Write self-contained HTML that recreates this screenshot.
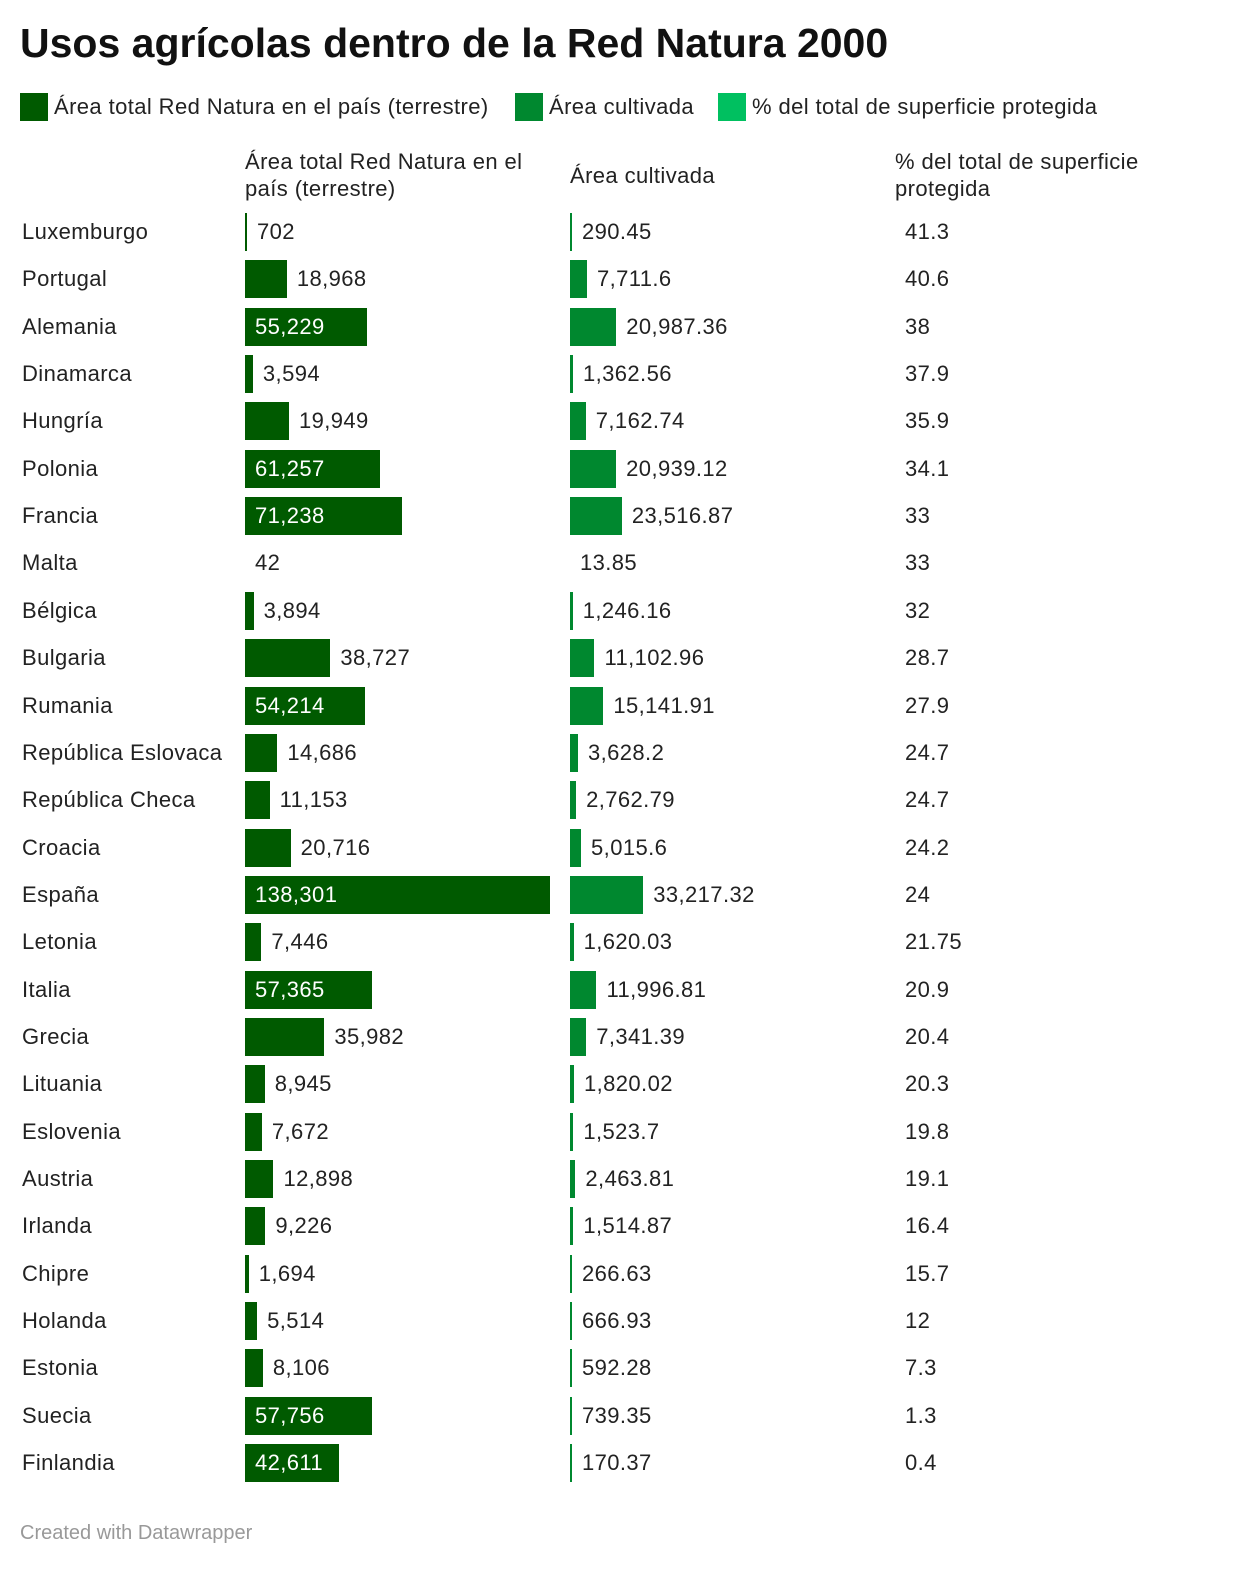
<!DOCTYPE html><html><head><meta charset="utf-8"><style>
body{margin:0;width:1240px;height:1590px;background:#fff;font-family:"Liberation Sans",sans-serif;color:#222;position:relative;overflow:hidden}
.a{position:absolute;white-space:nowrap}
h1{position:absolute;left:20px;top:20px;margin:0;font-size:41px;font-weight:bold;color:#111;letter-spacing:0px}
.lg{position:absolute;top:93px;font-size:22px;line-height:28px;letter-spacing:0.4px;white-space:nowrap}
.sw{display:inline-block;width:28px;height:28px;vertical-align:top;margin-right:6px}
.h{font-size:22px;line-height:27px;position:absolute;letter-spacing:0.4px;white-space:nowrap}
.r{position:absolute;left:0;width:1240px;height:38px}
.r div{position:absolute;line-height:38px;font-size:22px;white-space:nowrap;letter-spacing:0.4px}
.n{left:22px}
.b1{left:245px;height:38px;background:#005a00}
.b2{left:570px;height:38px;background:#00882f}
.p{left:905px}
.w{color:#fff}
</style></head><body>
<h1>Usos agrícolas dentro de la Red Natura 2000</h1>
<div class="lg" style="left:20px"><span class="sw" style="background:#005a00"></span>Área total Red Natura en el país (terrestre)</div>
<div class="lg" style="left:515px"><span class="sw" style="background:#00882f"></span>Área cultivada</div>
<div class="lg" style="left:718px"><span class="sw" style="background:#00c060"></span>% del total de superficie protegida</div>
<div class="h" style="left:245px;top:148px">Área total Red Natura en el<br>país (terrestre)</div>
<div class="h" style="left:570px;top:162px">Área cultivada</div>
<div class="h" style="left:895px;top:148px">% del total de superficie<br>protegida</div>
<div id="rows"></div>
<div class="a" style="left:20px;top:1522px;font-size:20px;color:#999">Created with Datawrapper</div>
<script>
var d=[["Luxemburgo",702,"702",290.45,"290.45","41.3"],["Portugal",18968,"18,968",7711.6,"7,711.6","40.6"],["Alemania",55229,"55,229",20987.36,"20,987.36","38"],["Dinamarca",3594,"3,594",1362.56,"1,362.56","37.9"],["Hungría",19949,"19,949",7162.74,"7,162.74","35.9"],["Polonia",61257,"61,257",20939.12,"20,939.12","34.1"],["Francia",71238,"71,238",23516.87,"23,516.87","33"],["Malta",42,"42",13.85,"13.85","33"],["Bélgica",3894,"3,894",1246.16,"1,246.16","32"],["Bulgaria",38727,"38,727",11102.96,"11,102.96","28.7"],["Rumania",54214,"54,214",15141.91,"15,141.91","27.9"],["República Eslovaca",14686,"14,686",3628.2,"3,628.2","24.7"],["República Checa",11153,"11,153",2762.79,"2,762.79","24.7"],["Croacia",20716,"20,716",5015.6,"5,015.6","24.2"],["España",138301,"138,301",33217.32,"33,217.32","24"],["Letonia",7446,"7,446",1620.03,"1,620.03","21.75"],["Italia",57365,"57,365",11996.81,"11,996.81","20.9"],["Grecia",35982,"35,982",7341.39,"7,341.39","20.4"],["Lituania",8945,"8,945",1820.02,"1,820.02","20.3"],["Eslovenia",7672,"7,672",1523.7,"1,523.7","19.8"],["Austria",12898,"12,898",2463.81,"2,463.81","19.1"],["Irlanda",9226,"9,226",1514.87,"1,514.87","16.4"],["Chipre",1694,"1,694",266.63,"266.63","15.7"],["Holanda",5514,"5,514",666.93,"666.93","12"],["Estonia",8106,"8,106",592.28,"592.28","7.3"],["Suecia",57756,"57,756",739.35,"739.35","1.3"],["Finlandia",42611,"42,611",170.37,"170.37","0.4"]];
var s=305/138301,h="";
d.forEach(function(r,i){var t=213+i*47.35;
var w1=r[1]*s,w2=r[3]*s;w1=r[1]>100?Math.max(w1,2):0;w2=r[3]>100?Math.max(w2,2):0;
h+='<div class="r" style="top:'+t+'px"><div class="n">'+r[0]+'</div>';
if(w1>0)h+='<div class="b1" style="width:'+w1+'px"></div>';
if(w1>90)h+='<div class="w" style="left:255px">'+r[2]+'</div>';else h+='<div style="left:'+(245+w1+10)+'px">'+r[2]+'</div>';
if(w2>0)h+='<div class="b2" style="width:'+w2+'px"></div>';
h+='<div style="left:'+(570+w2+10)+'px">'+r[4]+'</div>';
h+='<div class="p">'+r[5]+'</div></div>';});
document.getElementById("rows").innerHTML=h;
</script>
</body></html>
